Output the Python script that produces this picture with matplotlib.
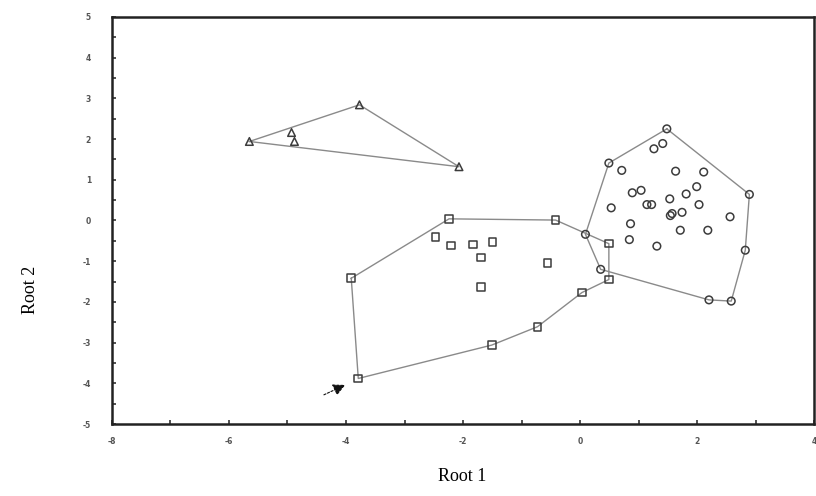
import numpy as np
import matplotlib
matplotlib.use("Agg")
import matplotlib.pyplot as plt
from matplotlib.ticker import MultipleLocator

plt.rcParams["axes.unicode_minus"] = False

# group 1 (triangles)
tri_x = [-5.65, -3.77, -2.07, -4.93, -4.88]
tri_y = [1.94, 2.84, 1.32, 2.16, 1.94]
tri_hull = [0, 1, 2, 0]

# group 2 (squares)
sq_x = [-3.91, -2.24, -0.42, 0.49, 0.49, 0.03, -0.73, -1.51, -3.79,
        -2.47, -2.21, -1.83, -1.50, -1.69, -0.56, -1.69]
sq_y = [-1.42, 0.04, 0.01, -0.57, -1.45, -1.77, -2.61, -3.06, -3.88,
        -0.40, -0.61, -0.59, -0.53, -0.91, -1.05, -1.63]
sq_hull = [0, 1, 2, 3, 4, 5, 6, 7, 8, 0]

# group 3 (circles)
ci_x = [1.48, 2.89, 2.82, 2.58, 2.20, 0.35, 0.09, 0.49,
        1.26, 1.41, 0.71, 1.63, 2.11, 0.89, 1.04, 1.99, 1.81, 0.53,
        1.14, 1.22, 1.53, 2.03, 1.57, 1.74, 2.56, 0.86, 1.71, 2.18,
        0.84, 1.31, 1.54]
ci_y = [2.25, 0.64, -0.73, -1.98, -1.95, -1.20, -0.34, 1.41,
        1.76, 1.89, 1.23, 1.21, 1.19, 0.68, 0.74, 0.83, 0.65, 0.31,
        0.39, 0.39, 0.53, 0.39, 0.17, 0.20, 0.09, -0.08, -0.24, -0.24,
        -0.47, -0.63, 0.12]
ci_hull = [0, 1, 2, 3, 4, 5, 6, 7, 0]

arrow_tail = (-4.42, -4.31)
arrow_head = (-3.97, -4.01)

fig = plt.figure(figsize=(8.16, 4.96), dpi=100)
ax = fig.add_axes([0.137, 0.145, 0.861, 0.821])

line_c = "#8a8a8a"
mark_c = "#3c3c3c"

for xs, ys, hull, m in [(tri_x, tri_y, tri_hull, "^"),
                        (sq_x, sq_y, sq_hull, "s"),
                        (ci_x, ci_y, ci_hull, "o")]:
    hx = [xs[i] for i in hull]
    hy = [ys[i] for i in hull]
    ax.plot(hx, hy, color=line_c, lw=1.0, zorder=2)
    ax.scatter(xs, ys, marker=m, s=30, facecolors="none",
               edgecolors=mark_c, linewidths=1.1, zorder=3)

ax.annotate("", xy=arrow_head, xytext=arrow_tail,
            arrowprops=dict(arrowstyle="-|>", color="#111111", lw=0.8,
                            ls=(0, (2, 1.5)), mutation_scale=18))

ax.set_xlim(-8, 4)
ax.set_ylim(-5, 5)
ax.xaxis.set_major_locator(MultipleLocator(2))
ax.xaxis.set_minor_locator(MultipleLocator(1))
ax.yaxis.set_major_locator(MultipleLocator(1))
ax.yaxis.set_minor_locator(MultipleLocator(0.5))
ax.tick_params(which="both", direction="in", length=3, width=1.2,
               color="#333333", labelsize=5.5, labelcolor="#555555")
ax.tick_params(axis="x", pad=9)
ax.tick_params(axis="y", pad=15)
for lab in ax.get_xticklabels() + ax.get_yticklabels():
    lab.set_fontweight("bold")
for s in ax.spines.values():
    s.set_linewidth(1.8)
    s.set_color("#222222")

fig.text(0.567, 0.022, "Root 1", family="Liberation Serif", fontsize=13,
         ha="center", va="bottom")
fig.text(0.037, 0.415, "Root 2", family="Liberation Serif", fontsize=13,
         rotation=90, ha="center", va="center")

fig.savefig("out.png", dpi=100)
